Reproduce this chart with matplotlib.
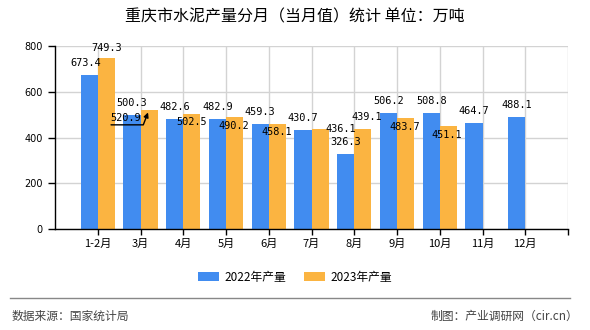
import matplotlib
matplotlib.use("Agg")
import matplotlib.pyplot as plt
import numpy as np

plt.rcParams['font.family'] = ['Noto Sans CJK SC', 'DejaVu Sans']

months = ["1-2月", "3月", "4月", "5月", "6月", "7月", "8月", "9月", "10月", "11月", "12月"]
v2022 = [673.4, 500.3, 482.6, 482.9, 459.3, 430.7, 326.3, 506.2, 508.8, 464.7, 488.1]
v2023 = [749.3, 520.9, 502.5, 490.2, 458.1, 436.1, 439.1, 483.7, 451.1]
yticks = [0, 200, 400, 600, 800]

# label offsets in pixels (dx, dy) from the top centre of each bar
off2022 = [(-4, 12)] + [(0, 12)] * 10
off2023 = [(0, 10), None, (0, -8), (-1, -9), (-1, -8), (21, 0), (4, 12), (-1, -9), (-2, -9)]

blue = "#418cf0"
orange = "#fbb441"
w = 0.4

fig = plt.figure(figsize=(5.9, 3.3), dpi=100)
ax = fig.add_axes([55/590, 1 - 229/330, 513/590, 183/330])

x = np.arange(1, len(months) + 1)
x23 = np.arange(1, len(v2023) + 1)
ax.bar(x - w/2, v2022, w, color=blue, label="2022年产量", zorder=2)
ax.bar(x23 + w/2, v2023, w, color=orange, label="2023年产量", zorder=2)

ax.set_xlim(0, 12)
ax.set_ylim(0, 800)
ax.set_xticks(np.arange(1, 13))
ax.set_xticklabels(months + [""], fontsize=8)
ax.set_yticks(yticks)
ax.set_yticklabels([str(t) for t in yticks], fontsize=7, family='DejaVu Sans')
ax.tick_params(axis='x', length=4, width=1, pad=3)
ax.tick_params(axis='y', length=5, width=1, pad=4)
ax.grid(True, color="#d3d3d3", lw=1, zorder=0)
for s in ["top", "right"]:
    ax.spines[s].set_visible(False)
for s in ["left", "bottom"]:
    ax.spines[s].set_color("black")
    ax.spines[s].set_linewidth(1)

lab = dict(fontsize=7.4, family=['DejaVu Sans Mono'], ha='center', va='center',
           textcoords='offset pixels', zorder=5)
for xi, v, o in zip(x, v2022, off2022):
    ax.annotate(f"{v:.1f}", (xi - w/2, v), xytext=o, **lab)
for xi, v, o in zip(x23, v2023, off2023):
    if o is None:
        ax.annotate(f"{v:.1f}", (xi + w/2, v), xytext=(-23, -8), **lab)
        ax.annotate("", (xi + w/2, v), xytext=(-38, -15), textcoords='offset pixels',
                    arrowprops=dict(arrowstyle='-|>', color='black', lw=1,
                                    shrinkA=0, shrinkB=2, mutation_scale=7,
                                    connectionstyle='angle,angleA=0,angleB=69,rad=0'),
                    zorder=5)
    else:
        ax.annotate(f"{v:.1f}", (xi + w/2, v), xytext=o, **lab)

fig.text(0.5, 1 - 17/330, "重庆市水泥产量分月（当月值）统计 单位：万吨",
         ha='center', va='center', fontsize=11.5, fontweight='normal')

ax.legend(loc='center', bbox_to_anchor=(295/590, 1 - 277/330), bbox_transform=fig.transFigure,
          ncol=2, frameon=False, fontsize=8.5, handlelength=1.8, handleheight=0.8,
          handletextpad=0.45, columnspacing=1.5)

fig.add_artist(plt.Line2D([10/590, 570/590], [1 - 298/330, 1 - 298/330],
                          color="#888888", lw=1, transform=fig.transFigure))
fig.text(12/590, 1 - 316/330, "数据来源：国家统计局", ha='left', va='center',
         fontsize=8.5, color="#444444")
fig.text(578/590, 1 - 316/330, "制图：产业调研网（cir.cn）", ha='right', va='center',
         fontsize=8.5, color="#444444")

fig.savefig("out.png", dpi=100)
